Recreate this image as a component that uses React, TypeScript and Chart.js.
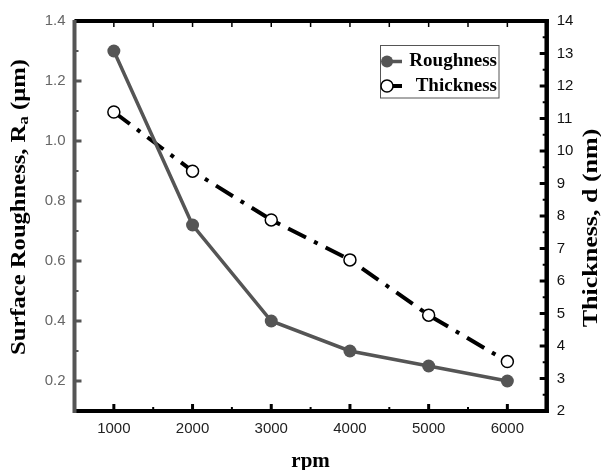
import React, { useEffect, useRef } from "react";
import { Chart, registerables } from "chart.js";

Chart.register(...registerables);

// Spin speed (rpm) and the two measured quantities
const rpm = [1000, 2000, 3000, 4000, 5000, 6000];
const roughness = [1.3, 0.72, 0.4, 0.3, 0.25, 0.2];
const thickness = [11.2, 9.38, 7.88, 6.65, 4.95, 3.52];

// Axis tick values
const rpmTicks = [1000, 2000, 3000, 4000, 5000, 6000];
const rpmMinorTicks = [500, 1500, 2500, 3500, 4500, 5500, 6500];
const roughnessTicks = [0.2, 0.4, 0.6, 0.8, 1.0, 1.2, 1.4];
const roughnessMinorTicks = [0.1, 0.3, 0.5, 0.7, 0.9, 1.1, 1.3];
const thicknessTicks = [2, 3, 4, 5, 6, 7, 8, 9, 10, 11, 12, 13, 14];
const thicknessMinorTicks = [2.5, 3.5, 4.5, 5.5, 6.5, 7.5, 8.5, 9.5, 10.5, 11.5, 12.5, 13.5];

const seriesNames = ["Roughness", "Thickness"];

const SANS = "'Liberation Sans', Arial, sans-serif";
const SERIF = "'Liberation Serif', 'Times New Roman', serif";
const GREY = "#555555";

// Frame, inward ticks, axis titles and legend
const framePlugin = {
  id: "frame",
  afterDraw(chart: any) {
    const { ctx, chartArea } = chart;
    const { left, right, top, bottom } = chartArea;
    const xs = chart.scales.x;
    const yl = chart.scales.y;
    const yr = chart.scales.y1;
    ctx.save();
    ctx.lineCap = "butt";

    // inward ticks
    const tick = (x1: number, y1: number, x2: number, y2: number, color: string, w: number) => {
      ctx.beginPath();
      ctx.strokeStyle = color;
      ctx.lineWidth = w;
      ctx.moveTo(x1, y1);
      ctx.lineTo(x2, y2);
      ctx.stroke();
    };
    rpmTicks.forEach((v) => {
      const x = xs.getPixelForValue(v);
      tick(x, bottom, x, bottom - 7, "#000", 3);
      tick(x, top, x, top + 6, "#000", 1.5);
    });
    rpmMinorTicks.forEach((v) => {
      const x = xs.getPixelForValue(v);
      tick(x, bottom, x, bottom - 4, "#000", 2);
      tick(x, top, x, top + 6, "#000", 1.5);
    });
    roughnessTicks.forEach((v) => {
      const y = yl.getPixelForValue(v);
      tick(left, y, left + 7, y, GREY, 3);
    });
    roughnessMinorTicks.forEach((v) => {
      const y = yl.getPixelForValue(v);
      tick(left, y, left + 4, y, GREY, 2);
    });
    thicknessTicks.forEach((v) => {
      const y = yr.getPixelForValue(v);
      tick(right, y, right - 7, y, "#000", 3);
    });
    thicknessMinorTicks.forEach((v) => {
      const y = yr.getPixelForValue(v);
      tick(right, y, right - 4, y, "#000", 2);
    });

    // frame
    tick(left, top, right + 2, top, "#000", 4);
    tick(left, bottom, right + 2, bottom, "#000", 4);
    tick(right, top - 2, right, bottom + 2, "#000", 4.5);
    tick(left, top - 1, left, bottom + 2, GREY, 4);

    // axis titles
    ctx.fillStyle = "#000";
    ctx.textAlign = "center";
    ctx.textBaseline = "middle";
    ctx.font = `bold 21px ${SERIF}`;
    ctx.fillText("rpm", (left + right) / 2, 462);

    ctx.save();
    ctx.translate(592, 228);
    ctx.rotate(-Math.PI / 2);
    ctx.scale(1.3, 1);
    ctx.font = `bold 20px ${SERIF}`;
    ctx.fillText("Thickness, d (nm)", 0, 0);
    ctx.restore();

    ctx.save();
    ctx.translate(20, 207);
    ctx.rotate(-Math.PI / 2);
    ctx.scale(1.23, 1);
    ctx.textAlign = "left";
    const mainFont = `bold 20px ${SERIF}`;
    const subFont = `bold 14px ${SERIF}`;
    const p1 = "Surface Roughness, R";
    const p2 = "a";
    const p3 = " (\u03bcm)";
    ctx.font = mainFont;
    const w1 = ctx.measureText(p1).width;
    const w3 = ctx.measureText(p3).width;
    ctx.font = subFont;
    const w2 = ctx.measureText(p2).width;
    let x0 = -(w1 + w2 + w3) / 2;
    ctx.font = mainFont;
    ctx.fillText(p1, x0, 0);
    x0 += w1;
    ctx.font = subFont;
    ctx.fillText(p2, x0, 4);
    x0 += w2;
    ctx.font = mainFont;
    ctx.fillText(p3, x0, 0);
    ctx.restore();

    // legend
    const ds = chart.data.datasets;
    ctx.strokeStyle = GREY;
    ctx.lineWidth = 1;
    ctx.strokeRect(380.5, 45.5, 118.5, 52.5);
    const rows = [61.5, 86];
    rows.forEach((ry, i) => {
      const d = ds[i];
      ctx.beginPath();
      ctx.strokeStyle = d.borderColor;
      ctx.lineWidth = d.borderWidth;
      ctx.moveTo(387, ry);
      ctx.lineTo(402, ry);
      ctx.stroke();
      ctx.beginPath();
      ctx.arc(387, ry, 6, 0, Math.PI * 2);
      ctx.fillStyle = d.pointBackgroundColor;
      ctx.fill();
      if (d.pointBorderWidth > 0) {
        ctx.strokeStyle = d.pointBorderColor;
        ctx.lineWidth = d.pointBorderWidth;
        ctx.stroke();
      }
      ctx.fillStyle = "#000";
      ctx.font = `bold 19px ${SERIF}`;
      ctx.textAlign = "right";
      ctx.textBaseline = "middle";
      ctx.fillText(d.label, 497, ry);
    });
    ctx.restore();
  },
};

export default function App() {
  const ref = useRef<HTMLCanvasElement>(null);

  useEffect(() => {
    const canvas = ref.current;
    if (!canvas) return;
    const chart = new Chart(canvas, {
      type: "line",
      data: {
        datasets: [
          {
            label: seriesNames[0],
            data: rpm.map((x, i) => ({ x, y: roughness[i] })),
            yAxisID: "y",
            borderColor: GREY,
            borderWidth: 3.5,
            pointRadius: 6.5,
            pointBackgroundColor: GREY,
            pointBorderColor: GREY,
            pointBorderWidth: 0,
            tension: 0,
          },
          {
            label: seriesNames[1],
            data: rpm.map((x, i) => ({ x, y: thickness[i] })),
            yAxisID: "y1",
            borderColor: "#000",
            borderWidth: 4,
            borderDash: [20, 9, 4, 9],
            pointRadius: 6,
            pointBackgroundColor: "#fff",
            pointBorderColor: "#000",
            pointBorderWidth: 1.5,
            tension: 0,
          },
        ],
      } as any,
      options: {
        animation: false,
        responsive: false,
        layout: { padding: { top: 21, left: 0, right: 0, bottom: 0 } },
        plugins: { legend: { display: false }, tooltip: { enabled: false } },
        scales: {
          x: {
            type: "linear",
            position: "bottom",
            min: 500,
            max: 6500,
            grid: { display: false, drawTicks: false },
            border: { display: false },
            afterBuildTicks: (s: any) => {
              s.ticks = rpmTicks.map((value) => ({ value }));
            },
            afterFit: (s: any) => {
              s.height = 59;
            },
            ticks: {
              padding: 9,
              color: "#222",
              font: { family: SANS, size: 15 },
              callback: (v: any) => String(v),
            },
          },
          y: {
            type: "linear",
            position: "left",
            min: 0.1,
            max: 1.4,
            grid: { display: false, drawTicks: false },
            border: { display: false },
            afterBuildTicks: (s: any) => {
              s.ticks = roughnessTicks.map((value) => ({ value }));
            },
            afterFit: (s: any) => {
              s.width = 74.5;
            },
            ticks: {
              padding: 9,
              color: "#666",
              font: { family: SANS, size: 15 },
              callback: (v: any) => Number(v).toFixed(1),
            },
          },
          y1: {
            type: "linear",
            position: "right",
            min: 2,
            max: 14,
            grid: { display: false, drawTicks: false },
            border: { display: false },
            afterBuildTicks: (s: any) => {
              s.ticks = thicknessTicks.map((value) => ({ value }));
            },
            afterFit: (s: any) => {
              s.width = 54.3;
            },
            ticks: {
              padding: 10,
              color: "#111",
              font: { family: SANS, size: 15 },
              callback: (v: any) => String(v),
            },
          },
        },
      } as any,
      plugins: [framePlugin],
    });
    return () => chart.destroy();
  }, []);

  return (
    <div style={{ position: "absolute", left: 0, top: 0, width: 601, height: 470, background: "#fff" }}>
      <canvas ref={ref} width={601} height={470} style={{ display: "block" }} />
    </div>
  );
}
